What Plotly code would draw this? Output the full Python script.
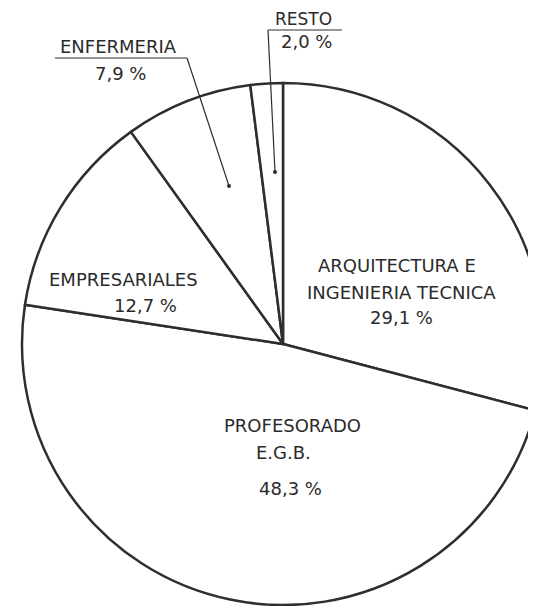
import plotly.graph_objects as go

# data (percent of total)
categories = ["ARQUITECTURA E<br>INGENIERIA TECNICA", "PROFESORADO<br>E.G.B.",
              "EMPRESARIALES", "ENFERMERIA", "RESTO"]
values = [29.1, 48.3, 12.7, 7.9, 2.0]

# page has an 8px body margin, figure is allowed to run past the right edge
OFF = 8
W, H = 536, 598
INK = "#2e2e2e"
FONT = "DejaVu Sans"


def px(x, y):
    # page pixel position -> paper coords
    return (x - OFF) / W, 1 - (y - OFF) / H


def pct(v):
    return f"{v:.1f}".replace(".", ",") + " %"


# pie centre (283, 344) on the page, radius 261
cx, cy, r = 283, 344, 261
dx0, dy1 = px(cx - r, cy - r)
dx1, dy0 = px(cx + r, cy + r)

fig = go.Figure(go.Pie(
    labels=categories,
    values=values,
    sort=False,
    direction="clockwise",
    rotation=0,
    textinfo="none",
    hoverinfo="label+percent",
    showlegend=False,
    marker=dict(colors=["white"] * len(values), line=dict(color=INK, width=2.5)),
    domain=dict(x=[dx0, min(dx1, 1)], y=[max(dy0, 0), dy1]),
))

# text lines: (text, x, y) in page pixels
name_lines = [c.split("<br>") for c in categories]
texts = [
    (name_lines[0][0], 397, 266), (name_lines[0][1], 401, 292), (pct(values[0]), 401, 317),
    (name_lines[1][0], 292, 425), (name_lines[1][1], 283, 453), (pct(values[1]), 290, 488),
    (name_lines[2][0], 124, 280), (pct(values[2]), 145, 305),
    (name_lines[3][0], 118, 47), (pct(values[3]), 120, 73),
    (pct(values[4]), 306, 42),
]
annotations = []
for t, x, y in texts:
    ax, ay = px(x, y)
    annotations.append(dict(x=ax, y=ay, text=t, showarrow=False, xref="paper", yref="paper",
                            xanchor="center", yanchor="middle"))
# RESTO sits right at the top edge, hang it from there
ax, _ = px(303, 0)
annotations.append(dict(x=ax, y=1, text=name_lines[4][0], showarrow=False,
                        xref="paper", yref="paper", xanchor="center", yanchor="top",
                        borderpad=0, font=dict(size=17)))

# leader lines for the two thin slices
shapes = []
for (x0, y0), (x1, y1) in [((55, 58), (187, 58)), ((187, 58), (229, 186)),
                           ((268, 30), (342, 30)), ((268, 30), (275, 172))]:
    a, b = px(x0, y0)
    c, d = px(x1, y1)
    shapes.append(dict(type="line", xref="paper", yref="paper", x0=a, y0=b, x1=c, y1=d,
                       line=dict(color=INK, width=1.2)))
for dx, dy in [(229, 186), (275, 172)]:
    a, b = px(dx - 2, dy - 2)
    c, d = px(dx + 2, dy + 2)
    shapes.append(dict(type="circle", xref="paper", yref="paper", x0=a, y0=b, x1=c, y1=d,
                       fillcolor=INK, line=dict(color=INK, width=0)))

fig.update_layout(
    width=W, height=H,
    margin=dict(l=0, r=0, t=0, b=0),
    paper_bgcolor="white",
    plot_bgcolor="white",
    font=dict(family=FONT, size=18, color="#2b2b2b"),
    annotations=annotations,
    shapes=shapes,
)

fig.write_html("out.html")
